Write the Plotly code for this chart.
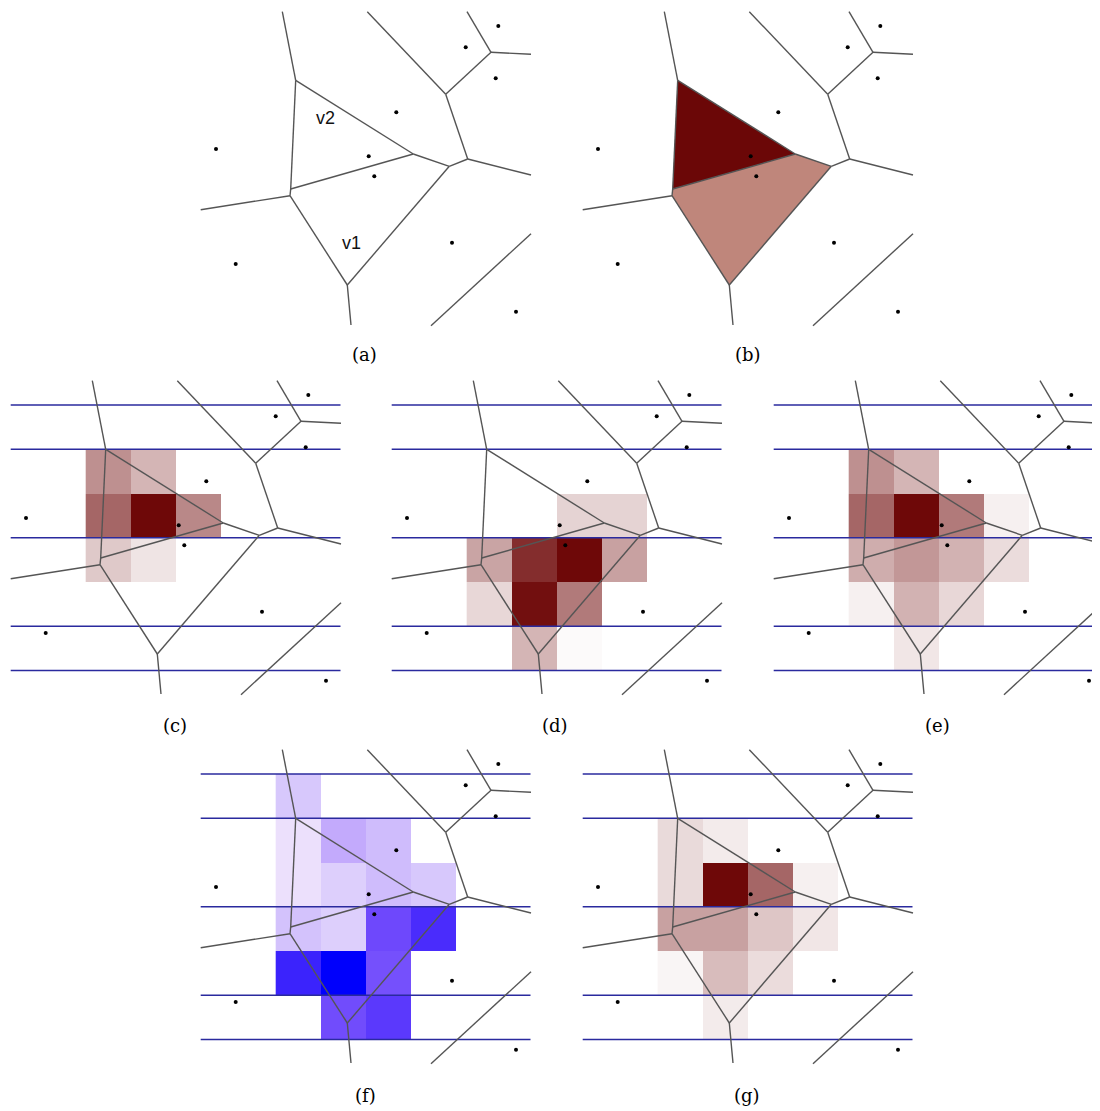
import plotly.graph_objects as go

# the page body adds an 8 px margin, so the figure is drawn 8 px smaller and shifted
OFF = 8
W, H = 1100 - OFF, 1111 - OFF

# ---------------- data (panel-local pixel units) ----------------
site_x = [303.3, 270.7, 300.7, 201.3, 21.0, 173.7, 179.3, 257.0, 40.7, 321.0]
site_y = [21.0, 42.3, 73.3, 107.3, 144.0, 151.3, 171.3, 237.7, 259.0, 306.7]

# Voronoi vertices
T = (100.7, 75.3)
L1 = (95.7, 184.0)
L2 = (95.0, 190.7)
R1 = (218.3, 149.0)
R2 = (254.3, 161.3)
R3 = (272.7, 154.0)
V = (250.7, 89.3)
Wv = (296.0, 47.3)
B = (152.3, 280.0)

edges = [
    [(87.3, 6.7), T], [T, L1], [L1, L2], [T, R1], [L1, R1], [R1, R2],
    [R2, R3], [R3, (336.0, 170.0)], [R3, V], [V, (172.3, 6.7)], [V, Wv],
    [Wv, (272.0, 6.7)], [Wv, (336.0, 49.3)], [L2, (5.7, 204.7)], [L2, B],
    [R2, B], [B, (156.0, 320.0)], [(336.0, 228.7), (236.0, 320.7)],
]

cell_v2 = [T, R1, L1]
cell_v1 = [L1, R1, R2, B, L2]

col_edges = [80.7, 125.7, 170.7, 215.7, 260.7, 305.7]
row_edges = [31.0, 75.25, 119.5, 163.75, 208.0, 252.25, 296.5]
blue_rows = [31.0, 75.25, 163.75, 252.25, 296.5]

N = None
grid_c = [
    [N, N, N, N, N],
    [0.45, 0.30, N, N, N],
    [0.62, 1.00, 0.48, N, N],
    [0.22, 0.11, N, N, N],
    [N, N, N, N, N],
    [N, N, N, N, N],
]
grid_d = [
    [N, N, N, N, N],
    [N, N, N, N, N],
    [N, N, 0.18, 0.18, N],
    [0.37, 0.85, 1.00, 0.38, N],
    [0.16, 0.97, 0.54, N, N],
    [N, 0.30, 0.02, N, N],
]
grid_e = [
    [N, N, N, N, N],
    [0.45, 0.30, N, N, N],
    [0.62, 1.00, 0.54, 0.06, N],
    [0.33, 0.42, 0.31, 0.14, N],
    [0.06, 0.31, 0.16, N, N],
    [N, 0.10, N, N, N],
]
grid_f = [
    [0.29, N, N, N, N],
    [0.15, 0.44, 0.35, N, N],
    [0.15, 0.25, 0.35, 0.29, N],
    [0.32, 0.25, 0.70, 0.85, N],
    [0.88, 1.00, 0.68, N, N],
    [N, 0.69, 0.78, N, N],
]
grid_g = [
    [N, N, N, N, N],
    [0.15, 0.08, N, N, N],
    [0.15, 1.00, 0.62, 0.06, N],
    [0.38, 0.38, 0.23, 0.10, N],
    [0.04, 0.27, 0.14, N, N],
    [N, 0.08, N, N, N],
]

panel_labels = ["(a)", "(b)", "(c)", "(d)", "(e)", "(f)", "(g)"]
panel_origin = [(195, 5), (577, 5), (5, 374), (386, 374), (768, 374), (195, 743), (577, 743)]
label_pos = [(364, 355), (748, 355), (175, 725), (555, 725), (937, 725), (365, 1095), (747, 1095)]
panel_grid = [None, None, grid_c, grid_d, grid_e, grid_f, grid_g]
panel_scale = [None, None, "red", "red", "red", "blue", "red"]

red_scale = [[0, "#ffffff"], [1, "#6e0808"]]
blue_scale = [[0, "#ffffff"], [0.15, "#ece0fc"], [0.3, "#d6c6fc"], [0.45, "#c2a8fc"],
              [0.7, "#6e48fc"], [0.85, "#4a2cfc"], [1, "#0000fc"]]

PW, PH = 340, 325

fig = go.Figure()
layout = dict(width=W, height=H, margin=dict(l=0, r=0, t=0, b=0),
              paper_bgcolor="white", plot_bgcolor="rgba(0,0,0,0)", showlegend=False)
annotations = []

for k in range(7):
    ox, oy = panel_origin[k]
    ox -= OFF
    oy -= OFF
    xn = "x" if k == 0 else f"x{k+1}"
    yn = "y" if k == 0 else f"y{k+1}"
    xa = "xaxis" if k == 0 else f"xaxis{k+1}"
    ya = "yaxis" if k == 0 else f"yaxis{k+1}"
    x0 = max(0, -ox)
    y0 = max(0, -oy)
    x1 = min(PW, W - ox)
    y1 = min(PH, H - oy)
    layout[xa] = dict(domain=[(ox + x0) / W, (ox + x1) / W], range=[x0, x1], visible=False,
                      fixedrange=True, anchor=yn)
    layout[ya] = dict(domain=[1 - (oy + y1) / H, 1 - (oy + y0) / H], range=[y1, y0],
                      visible=False, fixedrange=True, anchor=xn)

    # (b) coloured Voronoi cells
    if k == 1:
        for poly, col in [(cell_v1, "#bf867b"), (cell_v2, "#6b0707")]:
            px = [p[0] for p in poly] + [poly[0][0]]
            py = [p[1] for p in poly] + [poly[0][1]]
            fig.add_trace(go.Scatter(x=px, y=py, fill="toself", fillcolor=col, mode="none",
                                     xaxis=xn, yaxis=yn, hoverinfo="skip"))

    g = panel_grid[k]
    if g is not None:
        fig.add_trace(go.Heatmap(z=g, x=col_edges, y=row_edges,
                                 colorscale=red_scale if panel_scale[k] == "red" else blue_scale,
                                 zmin=0, zmax=1, showscale=False, xaxis=xn, yaxis=yn,
                                 hoverinfo="skip"))
        for yb in blue_rows:
            fig.add_trace(go.Scatter(x=[5.7, 335.5], y=[yb, yb], mode="lines",
                                     line=dict(color="#2a2a9e", width=1.6),
                                     xaxis=xn, yaxis=yn, hoverinfo="skip"))

    ex, ey = [], []
    for e in edges:
        ex += [e[0][0], e[1][0], None]
        ey += [e[0][1], e[1][1], None]
    fig.add_trace(go.Scatter(x=ex, y=ey, mode="lines", line=dict(color="#555555", width=1.4),
                             xaxis=xn, yaxis=yn, hoverinfo="skip"))
    fig.add_trace(go.Scatter(x=site_x, y=site_y, mode="markers",
                             marker=dict(color="black", size=4, symbol="circle"),
                             xaxis=xn, yaxis=yn, hoverinfo="skip"))

    if k == 0:
        for txt, tx, ty in [("v2", 130, 113), ("v1", 156.7, 238)]:
            annotations.append(dict(text=txt, x=tx, y=ty, xref=xn, yref=yn, showarrow=False,
                                    font=dict(family="Liberation Sans, Arial", size=18,
                                              color="#111111")))

    lx, ly = label_pos[k]
    annotations.append(dict(text=panel_labels[k], x=(lx - OFF) / W, y=1 - (ly - OFF) / H,
                            xref="paper", yref="paper", showarrow=False, xanchor="center",
                            yanchor="middle",
                            font=dict(family="DejaVu Serif, serif", size=18, color="black")))

layout["annotations"] = annotations
fig.update_layout(**layout)
fig.write_html("out.html")
